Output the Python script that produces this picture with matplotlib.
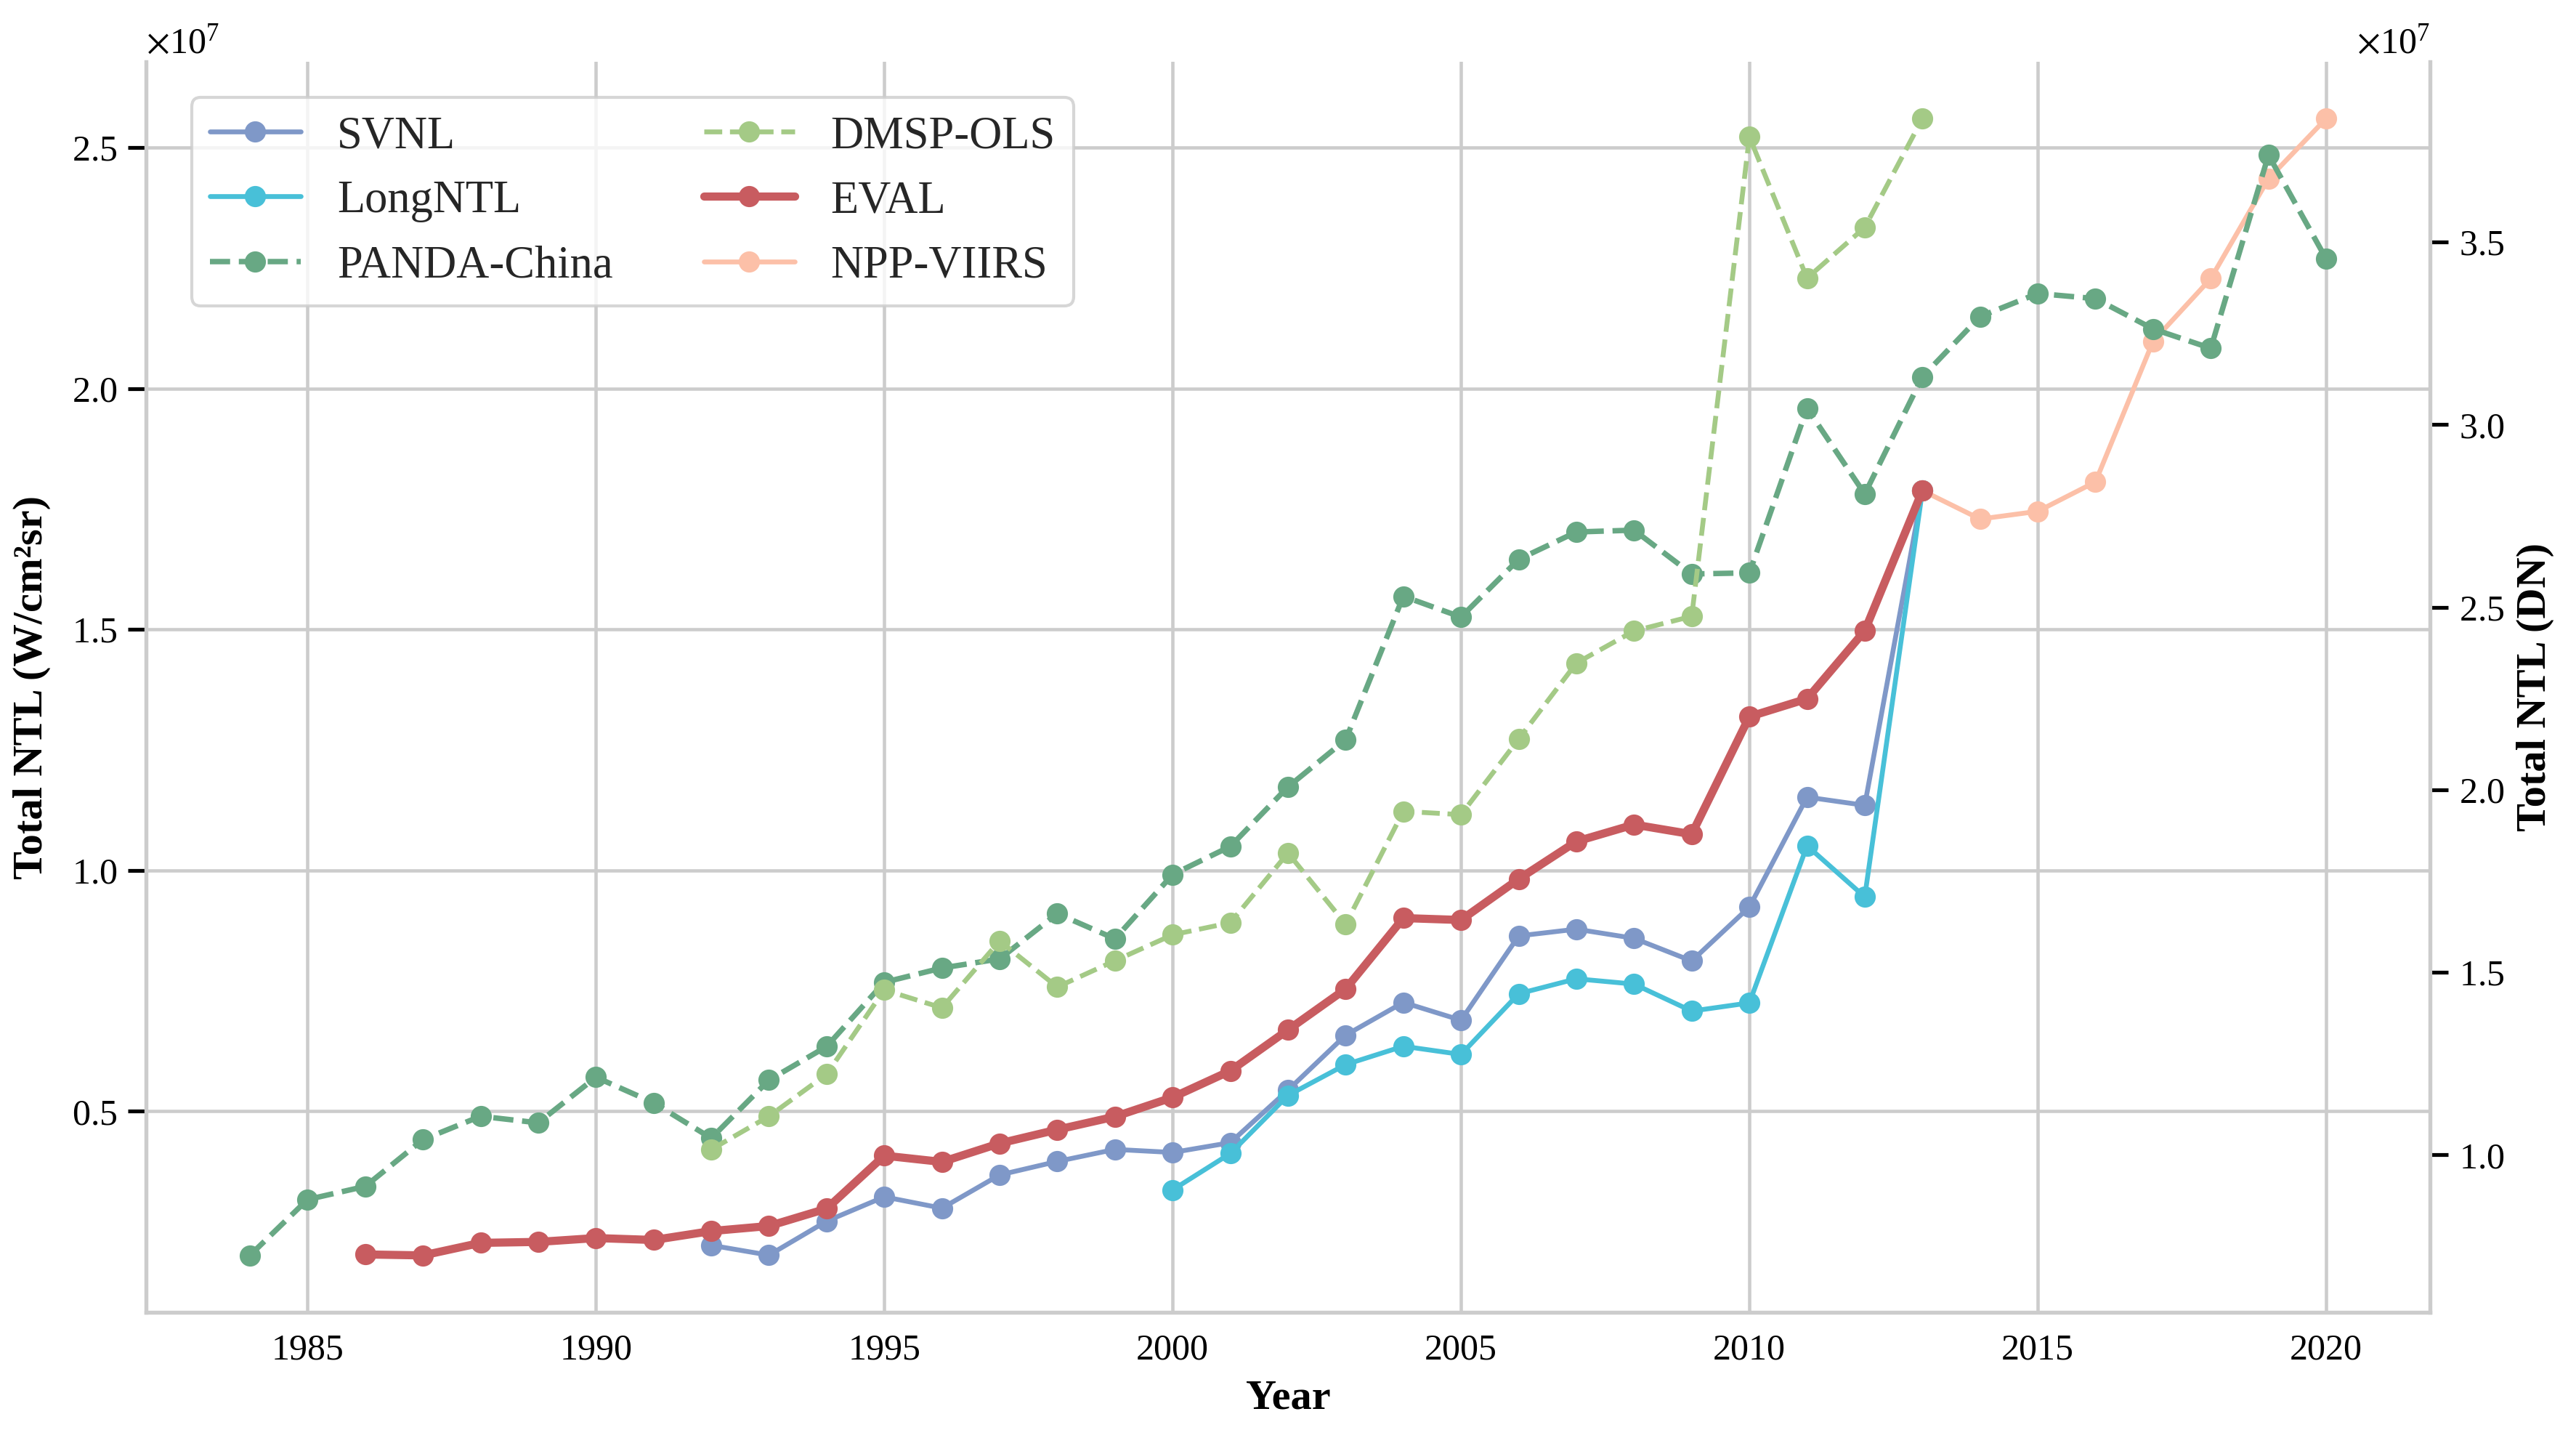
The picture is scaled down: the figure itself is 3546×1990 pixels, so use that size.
import matplotlib
matplotlib.use('Agg')
import matplotlib.pyplot as plt
from matplotlib.ticker import MultipleLocator
import numpy as np

plt.rcParams['font.family'] = ['Liberation Serif', 'DejaVu Serif']
plt.rcParams['mathtext.fontset'] = 'stix'
plt.rcParams['lines.solid_capstyle'] = 'round'

# values, in units of 1e7
years_svnl = list(range(1992, 2014))
svnl = [0.222, 0.2015, 0.272, 0.3225, 0.299, 0.368, 0.396, 0.421, 0.4146, 0.435,
        0.544, 0.658, 0.726, 0.689, 0.864, 0.878, 0.859, 0.812, 0.924, 1.152,
        1.135, 1.788]

years_longntl = list(range(2000, 2014))
longntl = [0.337, 0.4125, 0.533, 0.597, 0.635, 0.618, 0.744, 0.775, 0.764, 0.708,
           0.725, 1.051, 0.945, 1.788]

years_panda = list(range(1984, 2021))
panda = [0.725, 0.878, 0.914, 1.042, 1.106, 1.088, 1.213, 1.143, 1.046, 1.205,
         1.297, 1.473, 1.512, 1.537, 1.661, 1.592, 1.768, 1.845, 2.008, 2.137,
         2.530, 2.473, 2.631, 2.706, 2.711, 2.591, 2.594, 3.045, 2.810, 3.131,
         3.296, 3.359, 3.345, 3.262, 3.209, 3.738, 3.454]

years_dmsp = list(range(1992, 2014))
dmsp = [1.015, 1.106, 1.221, 1.452, 1.403, 1.586, 1.460, 1.532, 1.603, 1.636,
        1.827, 1.632, 1.941, 1.932, 2.139, 2.347, 2.435, 2.475, 3.788, 3.401,
        3.540, 3.838]

years_eval = list(range(1986, 2014))
eval_ntl = [0.203, 0.201, 0.227, 0.229, 0.237, 0.233, 0.2515, 0.262, 0.298, 0.408,
            0.395, 0.4335, 0.462, 0.489, 0.529, 0.584, 0.669, 0.754, 0.901, 0.897,
            0.982, 1.060, 1.095, 1.075, 1.319, 1.356, 1.497, 1.788]

years_npp = list(range(2013, 2021))
npp = [1.788, 1.729, 1.745, 1.806, 2.098, 2.228, 2.435, 2.560]

scale = 1e7
grey = '#cccccc'

fig = plt.figure(figsize=(3546 / 300, 1990 / 300), dpi=300)
ax1 = fig.add_axes([0.0567, 0.0925, 0.8866, 0.8648])
ax2 = ax1.twinx()

# radiance products on the left axis
l_svnl, = ax1.plot(years_svnl, np.array(svnl) * scale, color='#7f98c8', lw=1.6,
                   marker='o', ms=6, label='SVNL')
l_long, = ax1.plot(years_longntl, np.array(longntl) * scale, color='#48c0d8', lw=1.6,
                   marker='o', ms=6, label='LongNTL')
l_npp, = ax1.plot(years_npp, np.array(npp) * scale, color='#fcc0a8', lw=1.6,
                  marker='o', ms=6, label='NPP-VIIRS')
l_eval, = ax1.plot(years_eval, np.array(eval_ntl) * scale, color='#c85c60', lw=2.7,
                   marker='o', ms=6, label='EVAL')

# DN products on the right axis
l_panda, = ax2.plot(years_panda, np.array(panda) * scale, color='#68a884', lw=1.8,
                    ls='--', marker='o', ms=6, label='PANDA-China')
l_dmsp, = ax2.plot(years_dmsp, np.array(dmsp) * scale, color='#a4ca86', lw=1.6,
                   ls='--', marker='o', ms=6, label='DMSP-OLS')

ax1.grid(True, color=grey, lw=1.1)
ax2.grid(False)
ax1.set_axisbelow(True)

ax1.yaxis.set_major_locator(MultipleLocator(0.5e7))
ax2.yaxis.set_major_locator(MultipleLocator(0.5e7))
ax1.xaxis.set_major_locator(MultipleLocator(5))
for ax in (ax1, ax2):
    ax.ticklabel_format(axis='y', style='sci', scilimits=(0, 0), useMathText=True)
    ax.yaxis.get_offset_text().set_fontsize(12)
    ax.tick_params(axis='y', length=6, width=1.25, color='black', labelsize=12, pad=3.5)
    ax.tick_params(axis='x', length=0, labelsize=12, pad=7)
    ax.spines['top'].set_visible(False)
    for s in ('left', 'right', 'bottom'):
        ax.spines[s].set_color(grey)
        ax.spines[s].set_linewidth(1.25)

ax1.set_xlabel('Year', fontsize=14, fontweight='bold')
ax1.set_ylabel('Total NTL (W/cm²sr)', fontsize=14, fontweight='bold', labelpad=7)
ax2.set_ylabel('Total NTL (DN)', fontsize=14, fontweight='bold')

handles = [l_svnl, l_long, l_panda, l_dmsp, l_eval, l_npp]
leg = ax2.legend(handles, [h.get_label() for h in handles], ncol=2,
                 loc='upper left', bbox_to_anchor=(0.02, 0.9715), borderaxespad=0,
                 fontsize=15, frameon=True, edgecolor=grey, framealpha=0.8,
                 fancybox=True)
for t in leg.get_texts():
    t.set_color('#262626')

fig.savefig('out.png', dpi=300)
